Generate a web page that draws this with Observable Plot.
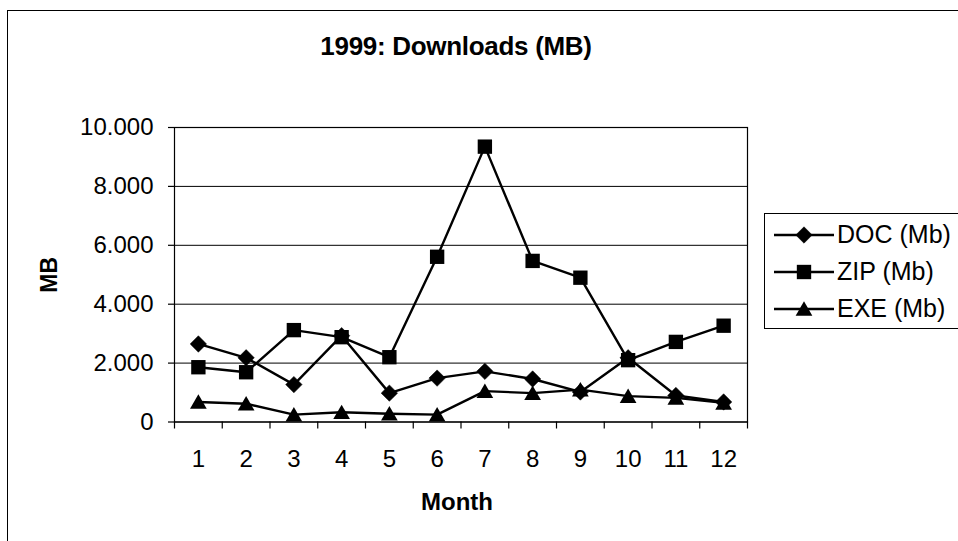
<!DOCTYPE html>
<html><head><meta charset="utf-8">
<script src="https://cdn.jsdelivr.net/npm/d3@7"></script>
<script src="https://cdn.jsdelivr.net/npm/@observablehq/plot@0.6"></script>
<style>
html,body{margin:0;padding:0;background:#fff;overflow:hidden;width:958px;height:541px;}
body{position:relative;font-family:"Liberation Sans",Arial,sans-serif;color:#000;}
#border{position:absolute;left:7px;top:10px;width:1000px;height:600px;border-left:1.5px solid #000;border-top:1.5px solid #000;}
#title{position:absolute;left:0;width:912px;top:31px;text-align:center;font-weight:bold;font-size:26px;line-height:30px;letter-spacing:-0.3px;}
#chart{position:absolute;left:0;top:0;}
#legend{position:absolute;left:764px;top:213px;width:260px;height:116px;border:1.5px solid #000;box-sizing:border-box;padding-top:2px;}
.row{display:flex;align-items:center;height:37px;font-size:25px;}
.row svg{margin-left:9px;margin-right:3px;}
</style></head><body>
<div id="border"></div>
<div id="chart"></div>
<div id="title">1999: Downloads (MB)</div>
<div id="legend"></div>
<script>
const months = [1,2,3,4,5,6,7,8,9,10,11,12];
const docMb = [2650, 2180, 1270, 2930, 980, 1490, 1720, 1460, 1020, 2180, 900, 680];
const zipMb = [1860, 1690, 3120, 2880, 2200, 5610, 9350, 5470, 4900, 2100, 2720, 3270];
const exeMb = [680, 620, 250, 330, 280, 250, 1050, 980, 1100, 880, 820, 650];
const seriesNames = ["DOC (Mb)", "ZIP (Mb)", "EXE (Mb)"];
const yTicks = [0, 2000, 4000, 6000, 8000, 10000];

const toRows = arr => months.map((m, i) => ({month: m, value: arr[i]}));
const docData = toRows(docMb), zipData = toRows(zipMb), exeData = toRows(exeMb);
const boundaries = [0, ...months].map(m => m + 0.5);
const fmt = d => d === 0 ? "0" : d3.format(",")(d).replace(/,/g, ".");

const series = [
  {data: docData, symbol: "diamond2", r: 7.4, dy: 0},
  {data: zipData, symbol: "square", r: 8.1, dy: 0},
  {data: exeData, symbol: "triangle", r: 6.2, dy: 2}
];

const H = 541, top0 = 127, bottom0 = 421.5;
const chart = Plot.plot({
  width: 958, height: H,
  marginLeft: 174, marginRight: 958 - 747, marginTop: top0, marginBottom: H - bottom0,
  x: {domain: [0.5, 12.5], label: null},
  y: {domain: [0, 10000], label: null},
  style: {fontFamily: "'Liberation Sans', Arial, sans-serif", fontSize: "24px", color: "#000", background: "transparent", overflow: "visible"},
  marks: [
    Plot.gridY(yTicks, {stroke: "#000", strokeOpacity: 1, strokeWidth: 1}),
    Plot.frame({stroke: "#000", strokeWidth: 1.2}),
    Plot.axisY(yTicks, {tickSize: 6, tickPadding: 15, tickFormat: fmt, fontSize: 24, label: null, stroke: "#000", strokeWidth: 1.2}),
    Plot.axisX(months, {tickSize: 0, tickPadding: 28, fontSize: 24, label: null}),
    Plot.axisX(boundaries, {tickSize: 7, tickFormat: () => "", label: null, stroke: "#000", strokeWidth: 1.2}),
    Plot.text(["MB"], {frameAnchor: "left", dx: -125, rotate: -90, textAnchor: "middle", lineAnchor: "middle", fontWeight: "bold", fontSize: 23, text: d => d}),
    Plot.text(["Month"], {frameAnchor: "bottom", dy: 80, dx: -4, textAnchor: "middle", lineAnchor: "middle", fontWeight: "bold", fontSize: 24, text: d => d}),
    ...series.flatMap(s => [
      Plot.line(s.data, {x: "month", y: "value", stroke: "#000", strokeWidth: 2.4}),
      Plot.dot(s.data, {x: "month", y: "value", symbol: s.symbol, r: s.r, dy: s.dy, fill: "#000", stroke: s.symbol === "diamond2" ? "#000" : "none", strokeWidth: 0.5})
    ])
  ]
});
document.getElementById("chart").appendChild(chart);

// Legend
const legend = document.getElementById("legend");
const symMap = {diamond2: d3.symbolDiamond2, square: d3.symbolSquare, triangle: d3.symbolTriangle};
series.forEach((s, i) => {
  const row = document.createElement("div");
  row.className = "row";
  const svg = d3.create("svg").attr("width", 60).attr("height", 30);
  svg.append("line").attr("x1", 0).attr("x2", 60).attr("y1", 15).attr("y2", 15).attr("stroke", "#000").attr("stroke-width", 2.4);
  svg.append("path").attr("transform", `translate(30,${15 + s.dy})`)
    .attr("d", d3.symbol(symMap[s.symbol], Math.PI * s.r * s.r)())
    .attr("fill", "#000").attr("stroke", s.symbol === "diamond2" ? "#000" : "none").attr("stroke-width", 0.5);
  row.appendChild(svg.node());
  const t = document.createElement("span");
  t.textContent = seriesNames[i];
  row.appendChild(t);
  legend.appendChild(row);
});
</script>
</body></html>
